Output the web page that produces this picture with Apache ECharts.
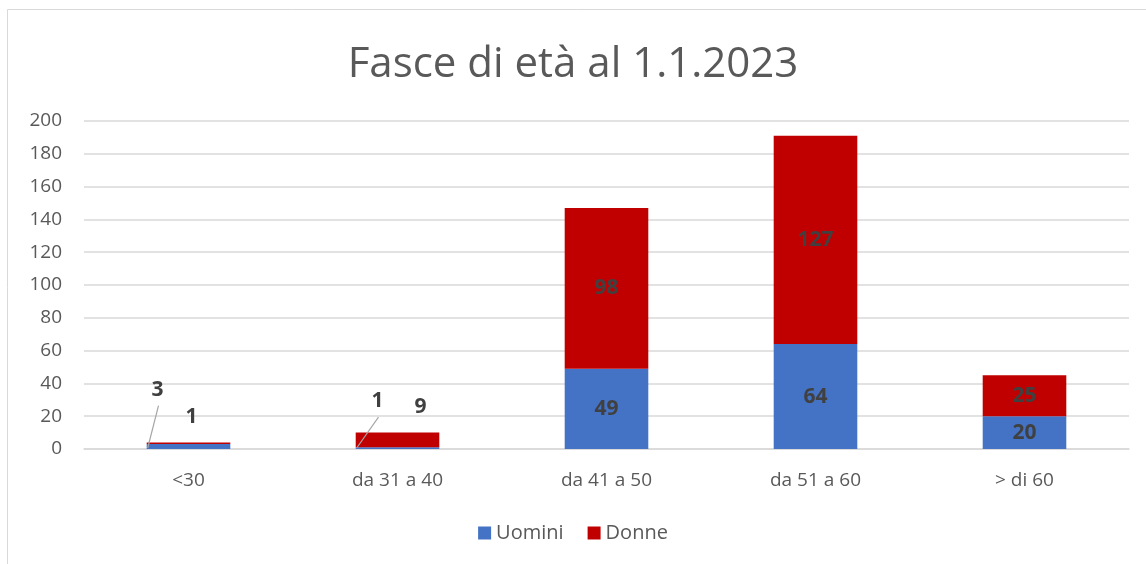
<!DOCTYPE html>
<html><head><meta charset="utf-8">
<script src="https://cdn.jsdelivr.net/npm/echarts@6/dist/echarts.min.js"></script>
<style>html,body{margin:0;padding:0;background:#fff}#c{width:1146px;height:564px}</style>
</head><body><div id="c"></div>
<script>
const categories = ['<30', 'da 31 a 40', 'da 41 a 50', 'da 51 a 60', '> di 60'];
const uomini = [3, 1, 49, 64, 20];
const donne = [1, 9, 98, 127, 25];
const yTicks = [0, 20, 40, 60, 80, 100, 120, 140, 160, 180, 200];

// label shifts for the small bars, per category: [Uomini, Donne]
const moved = {
  0: [[-31, -57], [3, -26]],
  1: [[-20, -47], [23, -33]]
};
const BAR_FRAC = 0.4;
const FONT = 'Open Sans, Liberation Sans, sans-serif';
const chart = echarts.init(document.getElementById('c'), null, {renderer: 'canvas'});
const labelStyle = {show: true, position: 'inside', fontFamily: FONT, fontSize: 21, fontWeight: 'bold', color: '#404040'};
// leader lines for the moved Uomini labels: from the bar's lower-left corner to under the label
const leaderData = Object.keys(moved).map(k => [Number(k), uomini[Number(k)]]);
chart.setOption({
  backgroundColor: '#fff',
  animation: false,
  title: {text: 'Fasce di età al 1.1.2023', left: 'center', top: 39,
    textStyle: {fontFamily: FONT, fontSize: 42, fontWeight: 'normal', color: '#595959'}},
  legend: {bottom: 16, left: 'center', itemWidth: 13, itemHeight: 13, itemGap: 24, icon: 'rect',
    data: ['Uomini', 'Donne'],
    textStyle: {fontFamily: FONT, fontSize: 20, color: '#595959'}},
  grid: {left: 84, right: 17, top: 121, bottom: 115},
  xAxis: {type: 'category', data: categories,
    axisTick: {show: false}, axisLine: {lineStyle: {color: '#d9d9d9', width: 1.5}},
    axisLabel: {fontFamily: FONT, fontSize: 19, color: '#595959', margin: 22}},
  yAxis: {type: 'value', min: yTicks[0], max: yTicks[yTicks.length - 1], interval: 20,
    axisLine: {show: false}, axisTick: {show: false},
    splitLine: {lineStyle: {color: '#d9d9d9', width: 1.5}},
    axisLabel: {fontFamily: FONT, fontSize: 19, color: '#595959', margin: 22}},
  series: [
    {name: 'Uomini', type: 'bar', stack: 'a', barWidth: (BAR_FRAC * 100) + '%', data: uomini,
      itemStyle: {color: '#4472c4'}, label: labelStyle,
      labelLayout: p => { const o = moved[p.dataIndex]; return o ? {dx: o[0][0], dy: o[0][1]} : {}; }},
    {name: 'Donne', type: 'bar', stack: 'a', barWidth: (BAR_FRAC * 100) + '%', data: donne,
      itemStyle: {color: '#c00000'}, label: labelStyle,
      labelLayout: p => { const o = moved[p.dataIndex]; return o ? {dx: o[1][0], dy: o[1][1]} : {}; }},
    {name: 'leader', type: 'custom', silent: true, z: 5, data: leaderData,
      renderItem: (params, api) => {
        const idx = api.value(0), val = api.value(1);
        const base = api.coord([idx, 0]);
        const w = api.size([1, 0])[0] * BAR_FRAC;
        const mid = api.coord([idx, val / 2]);
        const o = moved[idx][0];
        return {type: 'line',
          shape: {x1: base[0] - w / 2 + 1, y1: base[1] - 1, x2: mid[0] + o[0] + 1, y2: mid[1] + o[1] + 16},
          style: {stroke: '#a6a6a6', lineWidth: 1.2}};
      }}
  ],
  graphic: [{type: 'rect', shape: {x: 7.5, y: 9.5, width: 1150, height: 600}, style: {fill: null, stroke: '#d9d9d9', lineWidth: 1}, silent: true}]
});
</script></body></html>
